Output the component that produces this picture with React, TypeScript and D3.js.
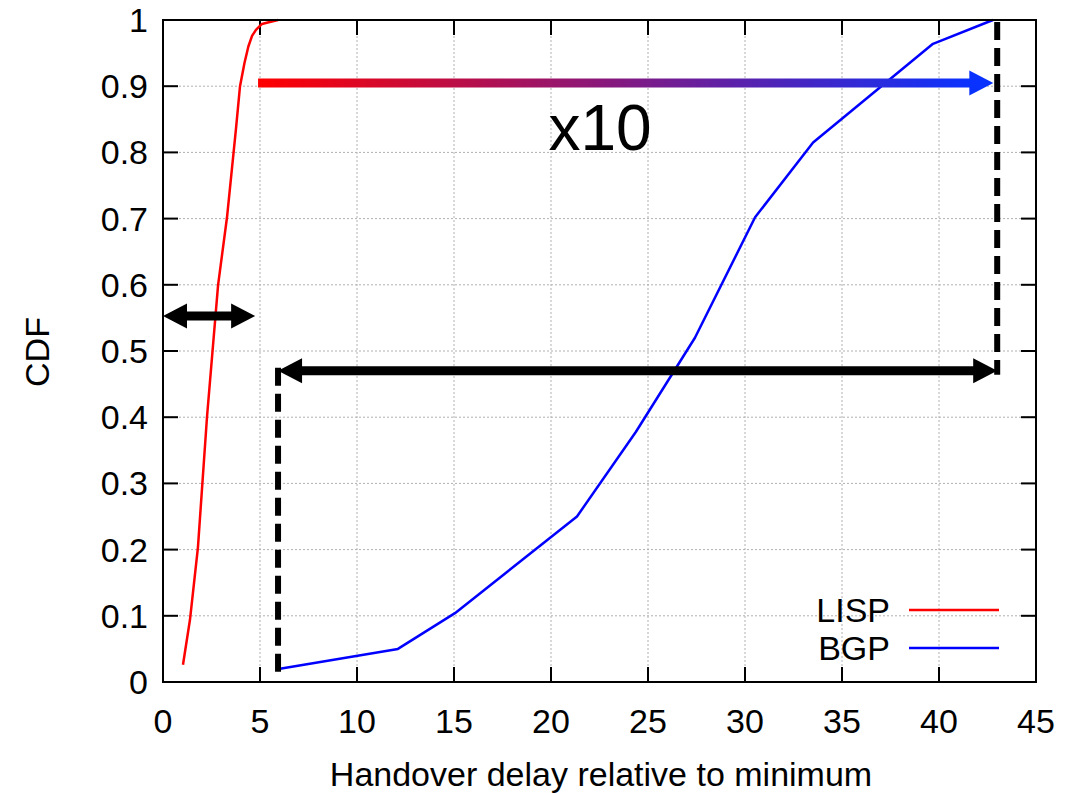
import React from "react";
import * as d3 from "d3";

// LISP handover delay CDF (x relative to minimum)
const lispX = [1.03, 1.39, 1.8, 2.27, 2.84, 3.3, 3.76, 3.97, 4.2, 4.4, 4.59, 4.79, 5.1, 5.5, 5.93];
const lispY = [0.026, 0.094, 0.203, 0.401, 0.6, 0.702, 0.835, 0.9, 0.935, 0.96, 0.976, 0.985, 0.994, 0.997, 1.0];

// BGP handover delay CDF
const bgpX = [6.03, 12.11, 15.05, 21.34, 24.38, 27.42, 30.52, 33.51, 39.69, 42.78];
const bgpY = [0.02, 0.05, 0.104, 0.25, 0.378, 0.52, 0.702, 0.815, 0.964, 1.0];

const xTicks = [0, 5, 10, 15, 20, 25, 30, 35, 40, 45];
const yTicks = [0, 0.1, 0.2, 0.3, 0.4, 0.5, 0.6, 0.7, 0.8, 0.9, 1];

// annotation positions in data units
const speedupArrow = { x0: 4.9, x1: 42.8, y: 0.905 };
const bgpSpan = { x0: 5.93, x1: 43.0, y: 0.47 };
const lispSpan = { x0: 0, x1: 4.75, y: 0.553 };

const W = 1081;
const H = 793;
const m = { left: 163, right: 45, top: 20, bottom: 111 };

const font = "Liberation Sans, Arial, sans-serif";

const App = () => {
  const x = d3.scaleLinear().domain([0, 45]).range([m.left, W - m.right]);
  const y = d3.scaleLinear().domain([0, 1]).range([H - m.bottom, m.top]);
  const line = d3
    .line<[number, number]>()
    .x((d) => x(d[0]))
    .y((d) => y(d[1]));

  const lisp = lispX.map((v, i) => [v, lispY[i]] as [number, number]);
  const bgp = bgpX.map((v, i) => [v, bgpY[i]] as [number, number]);

  const x0 = x(0), x1 = x(45), y0 = y(0), y1 = y(1);
  const tick = 15;
  const fs = 34;

  // arrow head polygon pointing dir (+1 right, -1 left) with tip at (tx, ty)
  const head = (tx: number, ty: number, dir: number, len = 24, half = 12.5) =>
    `${tx},${ty} ${tx - dir * len},${ty - half} ${tx - dir * len},${ty + half}`;

  return (
    <svg width={W} height={H} style={{ display: "block", position: "absolute", left: 0, top: 0 }}>
      <defs>
        <linearGradient id="rb" x1="0" x2="1" y1="0" y2="0">
          <stop offset="0%" stopColor="#ff0000" />
          <stop offset="100%" stopColor="#0a32ff" />
        </linearGradient>
      </defs>
      <rect width={W} height={H} fill="#fff" />

      {/* grid */}
      {xTicks.slice(1, -1).map((t) => (
        <line key={"gx" + t} x1={x(t)} x2={x(t)} y1={y0} y2={y1} stroke="#b0b0b0" strokeDasharray="2,2" strokeWidth={1} />
      ))}
      {yTicks.slice(1, -1).map((t) => (
        <line key={"gy" + t} x1={x0} x2={x1} y1={y(t)} y2={y(t)} stroke="#b0b0b0" strokeDasharray="2,2" strokeWidth={1} />
      ))}

      {/* ticks */}
      <g fontFamily={font} fontSize={fs}>
        {xTicks.map((t) => (
          <g key={"tx" + t}>
            <line x1={x(t)} x2={x(t)} y1={y0} y2={y0 - tick} stroke="#000" strokeWidth={2} />
            <line x1={x(t)} x2={x(t)} y1={y1} y2={y1 + tick} stroke="#000" strokeWidth={2} />
            <text x={x(t)} y={733} textAnchor="middle">{t}</text>
          </g>
        ))}
        {yTicks.map((t) => (
          <g key={"ty" + t}>
            <line x1={x0} x2={x0 + tick} y1={y(t)} y2={y(t)} stroke="#000" strokeWidth={2} />
            <line x1={x1} x2={x1 - tick} y1={y(t)} y2={y(t)} stroke="#000" strokeWidth={2} />
            <text x={x0 - 15} y={y(t) + 12} textAnchor="end">{t}</text>
          </g>
        ))}
      </g>

      {/* curves */}
      <path d={line(lisp) ?? ""} fill="none" stroke="#ff0000" strokeWidth={2.5} strokeLinejoin="round" />
      <path d={line(bgp) ?? ""} fill="none" stroke="#0000ff" strokeWidth={2.5} strokeLinejoin="round" />

      {/* x10 gradient arrow */}
      <line
        x1={x(speedupArrow.x0)}
        x2={x(speedupArrow.x1) - 20}
        y1={y(speedupArrow.y)}
        y2={y(speedupArrow.y) + 0.01}
        stroke="url(#rb)"
        strokeWidth={9}
      />
      <polygon points={head(x(speedupArrow.x1), y(speedupArrow.y), 1)} fill="#0a32ff" />
      <text x={600} y={150} textAnchor="middle" fontFamily={font} fontSize={64}>x10</text>

      {/* BGP span: dashed verticals and double arrow */}
      <line x1={x(bgpSpan.x1)} x2={x(bgpSpan.x1)} y1={y1 + 2} y2={y(bgpSpan.y) + 4} stroke="#000" strokeWidth={6} strokeDasharray="18,8" />
      <line x1={x(bgpSpan.x0)} x2={x(bgpSpan.x0)} y1={y(bgpSpan.y) - 3} y2={y0 - 6} stroke="#000" strokeWidth={6} strokeDasharray="18,8" />
      <line x1={x(bgpSpan.x0) + 20} x2={x(bgpSpan.x1) - 20} y1={y(bgpSpan.y)} y2={y(bgpSpan.y)} stroke="#000" strokeWidth={9} />
      <polygon points={head(x(bgpSpan.x0), y(bgpSpan.y), -1)} fill="#000" />
      <polygon points={head(x(bgpSpan.x1), y(bgpSpan.y), 1)} fill="#000" />

      {/* LISP span double arrow */}
      <line x1={x(lispSpan.x0) + 20} x2={x(lispSpan.x1) - 20} y1={y(lispSpan.y)} y2={y(lispSpan.y)} stroke="#000" strokeWidth={9} />
      <polygon points={head(x(lispSpan.x0), y(lispSpan.y), -1)} fill="#000" />
      <polygon points={head(x(lispSpan.x1), y(lispSpan.y), 1)} fill="#000" />

      {/* frame */}
      <rect x={x0} y={y1} width={x1 - x0} height={y0 - y1} fill="none" stroke="#000" strokeWidth={2} />

      {/* legend */}
      <g fontFamily={font} fontSize={fs}>
        <text x={890} y={622} textAnchor="end">LISP</text>
        <text x={890} y={660} textAnchor="end">BGP</text>
      </g>
      <line x1={909} x2={999} y1={610} y2={610} stroke="#ff0000" strokeWidth={2.5} />
      <line x1={909} x2={999} y1={648} y2={648} stroke="#0000ff" strokeWidth={2.5} />

      {/* axis labels */}
      <text x={601} y={786} textAnchor="middle" fontFamily={font} fontSize={fs}>
        Handover delay relative to minimum
      </text>
      <text transform="translate(49,352) rotate(-90)" textAnchor="middle" fontFamily={font} fontSize={fs}>
        CDF
      </text>
    </svg>
  );
};

export default App;
